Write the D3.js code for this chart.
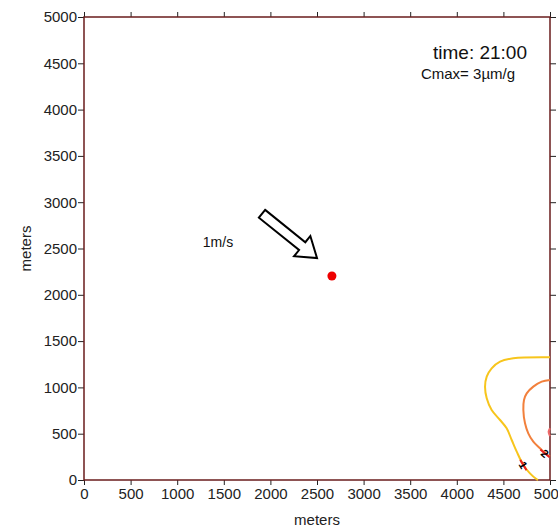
<!DOCTYPE html>
<html><head><meta charset="utf-8">
<script src="https://cdn.jsdelivr.net/npm/d3@7/dist/d3.min.js"></script>
<style>
body{margin:0;background:#fff;}
text{font-family:"Liberation Sans",Arial,sans-serif;}
</style></head>
<body><svg id="chart" width="558" height="527"></svg>
<script>
// ---- data (meters) ----
const xTicks = [0,500,1000,1500,2000,2500,3000,3500,4000,4500,5000];
const yTicks = [0,500,1000,1500,2000,2500,3000,3500,4000,4500,5000];
const domainX = [0,5000];
const domainY = [0,5000];
const titleText = "time: 21:00";
const cmaxText = "Cmax= 3µm/g";
const windLabel = "1m/s";
const windTail = [1910, 2875];
const windTip = [2500, 2397];
const sourcePoint = [2660, 2203];
const contourLevels = [1, 2, 3];
const contour1 = [[5000,1325],[4606,1314],[4464,1278],[4374,1206],[4321,1116],[4303,1008],[4321,882],[4374,756],[4464,648],[4535,558],[4589,432],[4643,306],[4714,162],[4785,72],[4857,8],[4871,0]];
const contour2 = [[5000,1080],[4911,1062],[4821,1008],[4750,936],[4721,864],[4714,756],[4732,612],[4767,504],[4821,414],[4893,342],[4946,288],[5000,252]];
const contour3 = [[5000,560],[4985,520],[5000,475]];
const contourLabelIndex = [12, 10, -1];
const contourColors = ["#f7c51c","#f2803c","#f06a6a"];

// ---- layout ----
const svg = d3.select("#chart");
const L = 84, R = 550, T = 17, B = 480;
const x = d3.scaleLinear().domain(domainX).range([L, R]);
const y = d3.scaleLinear().domain(domainY).range([B, T]);
const frameColor = "#6a1c1c";

const axFont = 15;
function styleAxis(g){
  g.select(".domain").remove();
  g.selectAll(".tick line").attr("stroke","#222");
  g.selectAll(".tick text").attr("fill","#222").style("font-size",axFont+"px");
}
svg.append("g").attr("transform",`translate(0,${B})`)
  .call(d3.axisBottom(x).tickValues(xTicks).tickFormat(d3.format("d")).tickSize(5).tickPadding(3))
  .call(styleAxis);
svg.append("g").attr("transform",`translate(${L},0)`)
  .call(d3.axisLeft(y).tickValues(yTicks).tickFormat(d3.format("d")).tickSize(6).tickPadding(1))
  .call(styleAxis);
svg.append("g").attr("transform",`translate(0,${T})`)
  .call(d3.axisTop(x).tickValues(xTicks).tickFormat("").tickSize(5))
  .call(styleAxis);
svg.append("g").attr("transform",`translate(${R},0)`)
  .call(d3.axisRight(y).tickValues(yTicks).tickFormat("").tickSize(6))
  .call(styleAxis);

// frame
svg.append("rect").attr("x",L).attr("y",T).attr("width",R-L).attr("height",B-T)
  .attr("fill","none").attr("stroke",frameColor).attr("stroke-width",1.5);

// axis titles
svg.append("text").attr("x",(L+R)/2).attr("y",525).attr("text-anchor","middle")
  .style("font-size","15px").attr("fill","#222").text("meters");
svg.append("text").attr("transform",`translate(31,${(T+B)/2}) rotate(-90)`).attr("text-anchor","middle")
  .style("font-size","15px").attr("fill","#222").text("meters");

// contours
const line = d3.line().x(d=>x(d[0])).y(d=>y(d[1])).curve(d3.curveCatmullRom.alpha(0.5));
const contours = [contour1, contour2, contour3];
const cg = svg.append("g");
contours.forEach((c,i)=>{
  cg.append("path").attr("d",line(c)).attr("fill","none")
    .attr("stroke",contourColors[i]).attr("stroke-width",2);
  const k = contourLabelIndex[i];
  if(k>=0){
    const p = c[k], a = c[k-1], b = c[k+1];
    const px = x(p[0]), py = y(p[1]);
    let ang = Math.atan2(y(b[1])-y(a[1]), x(b[0])-x(a[0]))*180/Math.PI;
    cg.append("line").attr("x1",-6).attr("x2",6).attr("y1",0).attr("y2",0)
      .attr("transform",`translate(${px},${py}) rotate(${ang})`)
      .attr("stroke","#e82020").attr("stroke-width",2);
    cg.append("text").attr("transform",`translate(${px},${py}) rotate(${ang})`)
      .attr("text-anchor","middle").attr("dy","0.36em")
      .style("font-size","11px").style("font-weight","bold").attr("fill","#000")
      .text(contourLevels[i]);
  }
});

// source point
svg.append("circle").attr("cx",x(sourcePoint[0])).attr("cy",y(sourcePoint[1])).attr("r",4.5).attr("fill","#ee0000");

// wind arrow
{
  const x0=x(windTail[0]), y0=y(windTail[1]), x1=x(windTip[0]), y1=y(windTip[1]);
  const len = Math.hypot(x1-x0,y1-y0), ang = Math.atan2(y1-y0,x1-x0)*180/Math.PI;
  const hw=5, hh=13, hl=19;
  const pts = [[0,-hw],[len-hl,-hw],[len-hl,-hh],[len,0],[len-hl,hh],[len-hl,hw],[0,hw]];
  svg.append("polygon").attr("points",pts.map(p=>p.join(",")).join(" "))
    .attr("transform",`translate(${x0},${y0}) rotate(${ang})`)
    .attr("fill","#fff").attr("stroke","#000").attr("stroke-width",2).attr("stroke-linejoin","miter");
}
svg.append("text").attr("x",218).attr("y",247).attr("text-anchor","middle")
  .style("font-size","14px").attr("fill","#111").text(windLabel);

// annotations
svg.append("text").attr("x",480).attr("y",59).attr("text-anchor","middle")
  .style("font-size","19px").attr("fill","#111").text(titleText);
svg.append("text").attr("x",468).attr("y",79).attr("text-anchor","middle")
  .style("font-size","15px").attr("fill","#111").text(cmaxText);
</script></body></html>
